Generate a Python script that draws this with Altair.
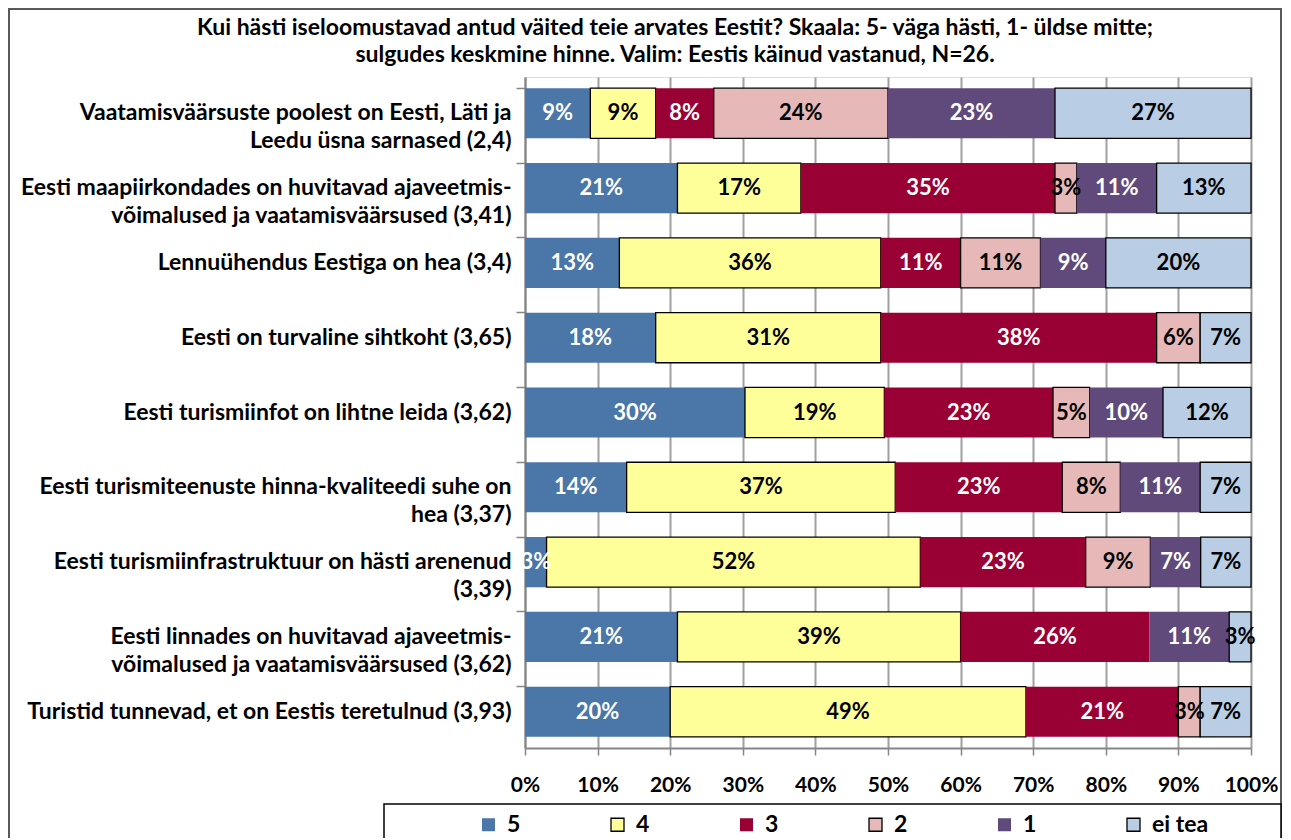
import altair as alt
import pandas as pd

categories = [
    "Vaatamisväärsuste poolest on Eesti, Läti ja\nLeedu üsna sarnased (2,4)",
    "Eesti maapiirkondades on huvitavad ajaveetmis-\nvõimalused ja vaatamisväärsused (3,41)",
    "Lennuühendus Eestiga on hea (3,4)",
    "Eesti on turvaline sihtkoht (3,65)",
    "Eesti turismiinfot on lihtne leida (3,62)",
    "Eesti turismiteenuste hinna-kvaliteedi suhe on\nhea (3,37)",
    "Eesti turismiinfrastruktuur on hästi arenenud\n(3,39)",
    "Eesti linnades on huvitavad ajaveetmis-\nvõimalused ja vaatamisväärsused (3,62)",
    "Turistid tunnevad, et on Eestis teretulnud (3,93)",
]
series_names = ["5", "4", "3", "2", "1", "ei tea"]
v5 = [9, 21, 13, 18, 30, 14, 3, 21, 20]
v4 = [9, 17, 36, 31, 19, 37, 52, 39, 49]
v3 = [8, 35, 11, 38, 23, 23, 23, 26, 21]
v2 = [24, 3, 11, 6, 5, 8, 9, 0, 3]
v1 = [23, 11, 9, 0, 10, 11, 7, 11, 0]
vei = [27, 13, 20, 7, 12, 7, 7, 3, 7]
x_ticks = [0, 0.1, 0.2, 0.3, 0.4, 0.5, 0.6, 0.7, 0.8, 0.9, 1.0]
title_lines = [
    "Kui hästi iseloomustavad antud väited teie arvates Eestit? Skaala: 5- väga hästi, 1- üldse mitte;",
    "sulgudes keskmine hinne. Valim: Eestis käinud vastanud, N=26.",
]

colors = ["#4A76A8", "#FFFF99", "#990033", "#E6B9B8", "#604A7B", "#B9CDE5"]
strokes = ["transparent", "#000000", "transparent", "#000000", "transparent", "#000000"]

rows = []
for si, (name, vals) in enumerate(zip(series_names, [v5, v4, v3, v2, v1, vei])):
    for ci, cat in enumerate(categories):
        rows.append({"cat": cat, "series": name, "value": vals[ci], "idx": si})
df = pd.DataFrame(rows)

FONT = "Lato, Liberation Sans, sans-serif"
TXT = 23
NUM = 22

W, H = 726, 671

base = (
    alt.Chart(df)
    .transform_filter("datum.value > 0")
    .transform_stack(
        stack="value",
        as_=["x0", "x1"],
        groupby=["cat"],
        offset="normalize",
        sort=[alt.SortField("idx", order="ascending")],
    )
    .transform_calculate(
        mid="(datum.x0 + datum.x1) / 2",
        lab="datum.value + '%'",
        tc="indexof(['4','2','ei tea'], datum.series) >= 0 ? 'black' : 'white'",
    )
)

yenc = alt.Y(
    "cat:N",
    sort=categories,
    scale=alt.Scale(paddingInner=0.33, paddingOuter=0.15),
    axis=alt.Axis(
        title=None,
        labelExpr="split(datum.label, '\\n')",
        labelFont=FONT,
        labelFontSize=TXT,
        labelFontWeight="bold",
        labelColor="black",
        labelLineHeight=28,
        labelPadding=5,
        labelLimit=700,
        tickSize=9,
        tickColor="#868686",
        tickWidth=1.5,
        domainColor="#868686",
        domainWidth=2,
        bandPosition=0,
    ),
)

legend_cfg = dict(
    title=None,
    orient="none",
    legendX=-48,
    legendY=736,
    direction="horizontal",
    columns=6,
    gridAlign="all",
    columnPadding=42,
    symbolType="square",
    symbolSize=169,
    symbolStrokeWidth=1.3,
    labelFont=FONT,
    labelFontSize=TXT,
    labelFontWeight="bold",
    labelColor="black",
    labelOffset=7,
    padding=0,
)

bars = base.mark_bar(strokeWidth=1.3).encode(
    y=yenc,
    x=alt.X(
        "x0:Q",
        scale=alt.Scale(domain=[0, 1]),
        axis=alt.Axis(
            title=None,
            values=x_ticks,
            format=".0%",
            labelFont=FONT,
            labelFontSize=21,
            labelFontWeight="bold",
            labelColor="black",
            labelPadding=19,
            labelOverlap=False,
            labelFlush=False,
            tickSize=7,
            tickColor="#868686",
            tickWidth=1.5,
            domainColor="#868686",
            domainWidth=2,
            grid=True,
            gridColor="#A0A0A0",
            gridWidth=2,
        ),
    ),
    x2="x1:Q",
    color=alt.Color(
        "series:N",
        scale=alt.Scale(domain=series_names, range=colors),
        legend=alt.Legend(**legend_cfg),
    ),
    stroke=alt.Stroke(
        "series:N",
        scale=alt.Scale(domain=series_names, range=strokes),
        legend=alt.Legend(**legend_cfg),
    ),
    order=alt.Order("idx:Q"),
)

labels = base.mark_text(font=FONT, fontSize=NUM, fontWeight="bold").encode(
    y=alt.Y("cat:N", sort=categories),
    x=alt.X("mid:Q"),
    text="lab:N",
    color=alt.Color("tc:N", scale=None),
)

one = alt.Data(values=[{"k": 1}])

title = alt.Chart(one).mark_text(
    font=FONT, fontSize=TXT, fontWeight="bold", align="center", baseline="middle", lineHeight=27
).encode(
    x=alt.value(150),
    y=alt.value(-49),
    text=alt.value(title_lines),
)

outer = alt.Chart(one).mark_rect(fill="transparent", stroke="#595959", strokeWidth=2).encode(
    x=alt.value(-516), x2=alt.value(756), y=alt.value(-68), y2=alt.value(800)
)
legend_box = alt.Chart(one).mark_rect(fill="white", stroke="#000000", strokeWidth=1.5).encode(
    x=alt.value(-141), x2=alt.value(756), y=alt.value(727), y2=alt.value(800)
)

chart = (
    alt.layer(outer, legend_box, bars, labels, title)
    .properties(
        width=W,
        height=H,
        autosize=alt.AutoSizeParams(type="none"),
        padding={"left": 517, "top": 69, "right": 32, "bottom": 90},
    )
    .configure_view(stroke="#000000", strokeWidth=1.5)
    .configure(background="white")
)

chart.save("out.html", embed_options={"renderer": "svg", "actions": False})
